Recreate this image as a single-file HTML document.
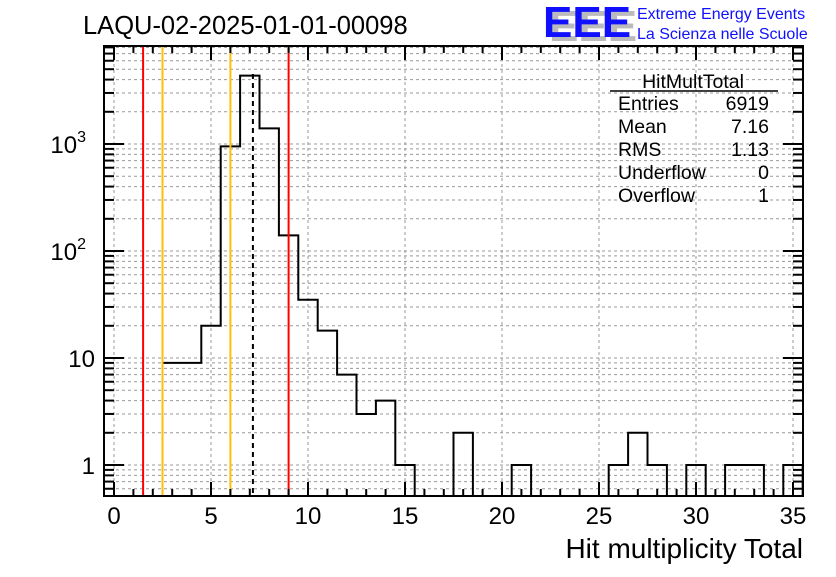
<!DOCTYPE html>
<html><head><meta charset="utf-8"><style>
body{margin:0;background:#fff}
svg text{font-family:"Liberation Sans",Arial,sans-serif}
</style></head><body>
<svg id="c" width="836" height="572" xmlns="http://www.w3.org/2000/svg">
<rect width="836" height="572" fill="#fff"/>
<text x="83" y="34" font-size="25.5">LAQU-02-2025-01-01-00098</text>
<g>
<text x="546" y="39" font-size="44" font-weight="bold" fill="#bbb" transform="translate(3,2)">EEE</text>
<text x="543" y="37" font-size="44" font-weight="bold" fill="#1010ff">EEE</text>
<text x="637" y="19" font-size="16" fill="#1010ff">Extreme Energy Events</text>
<text x="637" y="39" font-size="16" fill="#1010ff">La Scienza nelle Scuole</text>
</g>
<g id="grid"></g>
<g id="marks"></g>
<g id="axes"></g>
<g font-size="19.5">
<text x="693" y="88" text-anchor="middle">HitMultTotal</text>
<line x1="610" y1="91" x2="778" y2="91" stroke="#000" stroke-width="1.5"/>
<text x="618" y="110">Entries</text><text x="769" y="110" text-anchor="end">6919</text>
<text x="618" y="133">Mean</text><text x="769" y="133" text-anchor="end">7.16</text>
<text x="618" y="156">RMS</text><text x="769" y="156" text-anchor="end">1.13</text>
<text x="618" y="179">Underflow</text><text x="769" y="179" text-anchor="end">0</text>
<text x="618" y="202">Overflow</text><text x="769" y="202" text-anchor="end">1</text>
</g>
<text x="803" y="558" font-size="28" text-anchor="end">Hit multiplicity Total</text>
</svg>
<script>
const binCenters=[3,4,5,6,7,8,9,10,11,12,13,14,15,18,21,26,27,28,30,32,33,35];
const binCounts=[9,9,20,950,4350,1400,140,35,18,7,3,4,1,2,1,1,2,1,1,1,1,1];
const xTickLabels=[0,5,10,15,20,25,30,35];
const yTickValues=[1,10,100,1000];
const yTickLabels=["1","10","10²","10³"];
const redLines=[1.5,9];
const orangeLines=[2.5,6.0];
const meanLine=7.16;

const L=104,R=803,T=46,B=496;
const X=v=>114+v*19.4;
const Y=v=>465-Math.log10(v)*107;
const ns="http://www.w3.org/2000/svg";
function mk(p,tag,a){const e=document.createElementNS(ns,tag);for(const k in a)e.setAttribute(k,a[k]);document.getElementById(p).appendChild(e);return e;}

for(const t of xTickLabels){const e=mk('grid','line',{x1:X(t),x2:X(t),y1:T,y2:B,stroke:'#999','stroke-dasharray':'3,3','stroke-width':1});

}
for(let d=-1;d<=3;d++)for(let m=1;m<=9;m++){const v=m*Math.pow(10,d);const y=Y(v);if(y<T||y>B)continue;
const e=mk('grid','line',{x1:L,x2:R,y1:y,y2:y,stroke:'#999','stroke-dasharray':'3,3','stroke-width':1});


const t1=mk('axes','line',{x1:L,x2:L+(m==1?20:10),y1:y,y2:y,stroke:'#000','stroke-width':2});


const t2=mk('axes','line',{x1:R,x2:R-(m==1?20:10),y1:y,y2:y,stroke:'#000','stroke-width':2});

}

let d='',prevEnd=null;
binCenters.forEach((c,i)=>{const x0=X(c-0.5),x1=X(c+0.5),y=Y(binCounts[i]);
if(prevEnd===null||Math.abs(prevEnd-(c-0.5))>1e-6){d+=`M${x0},${B} L${x0},${y} `;}else{d+=`L${x0},${y} `;}
d+=`L${x1},${y} `;
const next=binCenters[i+1];
if(next===undefined||next!==c+1){d+=`L${x1},${B} `;}
prevEnd=c+0.5;});
const h=mk('marks','path',{d:d,fill:'none',stroke:'#000','stroke-width':2});



for(const v of redLines){const e=mk('marks','line',{x1:X(v),x2:X(v),y1:T,y2:B,stroke:'#ff0000','stroke-width':2});

}
for(const v of orangeLines){const e=mk('marks','line',{x1:X(v),x2:X(v),y1:T,y2:B,stroke:'#ffc000','stroke-width':2});

}
const ml=mk('marks','line',{x1:X(meanLine),x2:X(meanLine),y1:T+28,y2:B,stroke:'#000','stroke-width':2,'stroke-dasharray':'5,4'});



const fr=mk('axes','rect',{x:L,y:T,width:R-L,height:B-T,fill:'none',stroke:'#000','stroke-width':2});


for(let v=0;v<=35;v++){const big=v%5==0;
const a=mk('axes','line',{x1:X(v),x2:X(v),y1:B,y2:B-(big?14:7),stroke:'#000','stroke-width':2});


const b=mk('axes','line',{x1:X(v),x2:X(v),y1:T,y2:T+(big?14:7),stroke:'#000','stroke-width':2});

}
xTickLabels.forEach(t=>{const e=mk('axes','text',{x:X(t),y:524,'font-size':24,'text-anchor':'middle'});e.textContent=t;

});
yTickValues.forEach((v,i)=>{const e=mk('axes','text',{x:95,y:Y(v)+9,'font-size':24,'text-anchor':'end'});
const s=yTickLabels[i];
if(!/^\d+$/.test(s)){e.textContent='10';const ts=document.createElementNS(ns,'tspan');ts.setAttribute('dy','-11');ts.setAttribute('font-size','16');ts.textContent=s==='10²'?'2':'3';e.appendChild(ts);e.setAttribute('x',95-9);}
else e.textContent=s;

});
</script>
</body></html>
